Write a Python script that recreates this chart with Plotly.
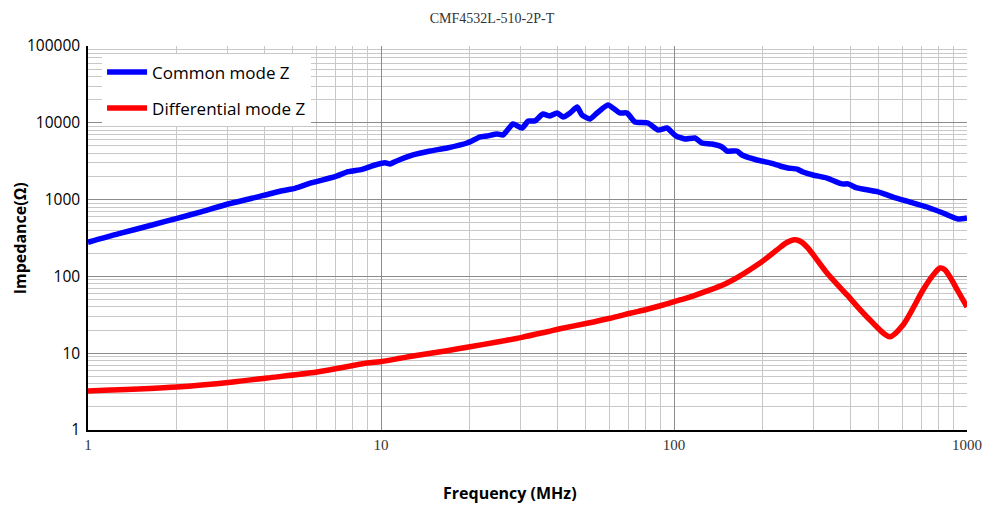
import plotly.graph_objects as go

title_text = "CMF4532L-510-2P-T"
x_title = "Frequency (MHz)"
y_title = "Impedance(Ω)"

cm_freq = [1.0, 1.016, 1.266, 1.654, 2.013, 2.449, 3.005, 3.628, 4.594, 5.088, 5.815, 6.966,
           7.72, 8.61, 9.54, 10.32, 10.74, 11.16, 12.86, 14.7, 16.8, 19.66, 21.8, 23.0, 24.9,
           26.1, 28.2, 30.3, 31.8, 33.5, 35.7, 37.7, 39.9, 41.8, 44.2, 46.7, 48.5, 51.7, 54.6,
           59.5, 65.4, 69.1, 73.6, 81.5, 88.2, 94.7, 101.5, 109, 117.9, 124.6, 134.8, 145.8,
           151.7, 164, 170.6, 192, 212.6, 230, 245, 263, 275.5, 298, 332.7, 374.5, 392.5,
           421, 497, 559, 639, 730, 828, 931, 1000]
cm_z = [280, 283, 357, 467, 571, 696, 877, 1040, 1306, 1403, 1660, 1987,
        2307, 2480, 2822, 3020, 2908, 3115, 3810, 4290, 4700, 5460, 6540, 6730, 7150,
        6940, 9640, 8550, 10550, 10550, 13000, 12270, 13420, 11900, 13420, 16060, 12640, 11210, 13420,
        17060, 13420, 13420, 10240, 9940, 8060, 8550, 6740, 6150, 6340, 5460, 5290, 4840,
        4290, 4290, 3810, 3280, 3000, 2740, 2580, 2500, 2290, 2090, 1910, 1600, 1600,
        1420, 1260, 1080, 930, 801, 669, 559, 576]

dm_freq = [1.0, 2.013, 3.126, 4.08, 6.05, 8.96, 9.92, 11.61, 12.86, 16.8, 20.13, 24.9, 30.28,
           36.9, 40.8, 50.5, 60.5, 70.8, 80.9, 91.7, 104.8, 116, 151.7, 196.6, 224.6, 240,
           254.8, 268, 284.4, 332.7, 389.5, 455.8, 546, 604.8, 707.6, 760, 809, 840, 875, 930, 1000]
dm_z = [3.22, 3.63, 4.22, 4.75, 5.69, 7.45, 7.75, 8.58, 9.19, 10.78, 12.15, 13.99, 16.1,
        19.05, 20.8, 24.5, 28.5, 33.1, 37.3, 42.4, 49.3, 55.5, 82, 149.5, 221, 270,
        298, 290, 241.5, 110.8, 57.3, 29.6, 16.4, 23.3, 66.5, 100, 128.6, 122, 98.2, 65, 40]

x_tickvals = [1, 10, 100, 1000]
x_ticktext = ["1", "10", "100", "1000"]
y_tickvals = [1, 10, 100, 1000, 10000, 100000]
y_ticktext = ["1", "10", "100", "1000", "10000", "100000"]
minor_digits = [2, 3, 4, 5, 6, 7, 8, 9]

x_minor = [d * 10 ** k for k in range(3) for d in minor_digits]
y_minor = [d * 10 ** k for k in range(5) for d in minor_digits]

fig = go.Figure()
fig.add_trace(go.Scatter(x=cm_freq, y=cm_z, mode="lines", name="Common mode Z",
                         legendgroup="a",
                         line=dict(color="#0000FF", width=5.5, shape="spline", smoothing=0.5)))
fig.add_trace(go.Scatter(x=dm_freq, y=dm_z, mode="lines", name="Differential mode Z",
                         legendgroup="b",
                         line=dict(color="#FF0000", width=5.5, shape="spline", smoothing=0.8)))

major_grid = "#8c8c8c"
minor_grid = "#c8c8c8"

fig.update_layout(
    width=984, height=505,
    margin=dict(l=88, r=17, t=46, b=75),
    paper_bgcolor="white", plot_bgcolor="white",
    title=dict(text=title_text, x=0.5, xanchor="center", y=0.964, yanchor="middle",
               font=dict(family="Liberation Serif", size=14, color="#333333")),
    showlegend=True,
    legend=dict(x=0.016, y=0.978, xanchor="left", yanchor="top",
                bgcolor="white", borderwidth=0,
                font=dict(family="Open Sans", size=17, color="black"),
                tracegroupgap=11, itemwidth=40),
    xaxis=dict(type="log", range=[0, 3], tickvals=x_tickvals, ticktext=x_ticktext,
               automargin=False, ticklabeloverflow="allow",
               showgrid=True, gridcolor=major_grid, gridwidth=1,
               minor=dict(showgrid=True, gridcolor=minor_grid, tickmode="array",
                          tickvals=x_minor, ticks=""),
               showline=True, linecolor="black", linewidth=1.5,
               ticks="", zeroline=False,
               tickfont=dict(family="Liberation Serif", size=15, color="#333333")),
    yaxis=dict(type="log", range=[0, 5], tickvals=y_tickvals, ticktext=y_ticktext,
               automargin=False, ticklabelstandoff=3,
               showgrid=True, gridcolor=major_grid, gridwidth=1,
               minor=dict(showgrid=True, gridcolor=minor_grid, tickmode="array",
                          tickvals=y_minor, ticks=""),
               showline=True, linecolor="black", linewidth=1.5,
               ticks="", zeroline=False,
               tickfont=dict(family="Open Sans", size=15.5, color="black")),
    annotations=[
        dict(text="<b>" + y_title + "</b>", xref="paper", yref="paper",
             x=-0.077, y=0.5, xanchor="center", yanchor="middle",
             textangle=-90, showarrow=False,
             font=dict(family="Open Sans", size=16, color="black")),
        dict(text="<b>" + x_title + "</b>", xref="paper", yref="paper",
             x=0.48, y=-0.164, xanchor="center", yanchor="middle",
             showarrow=False,
             font=dict(family="Open Sans", size=16, color="black")),
    ],
)

fig.write_html("out.html", config={"displayModeBar": False},
               post_script="document.body.style.margin='0';document.body.style.overflow='hidden';")
